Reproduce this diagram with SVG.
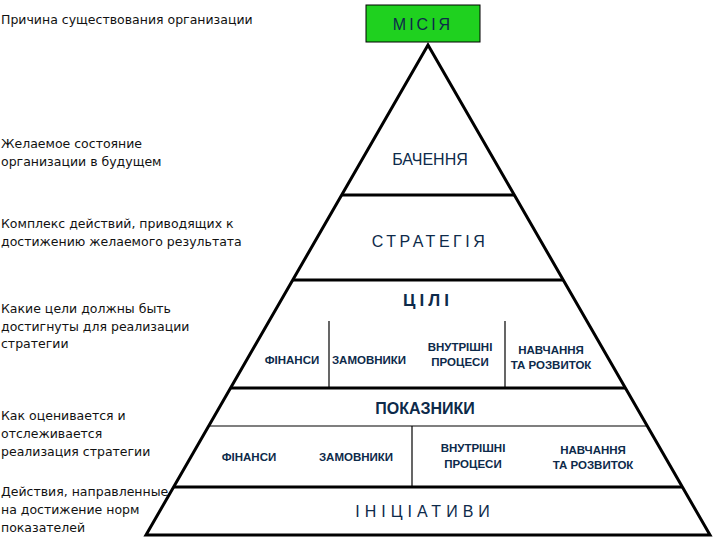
<svg xmlns="http://www.w3.org/2000/svg" width="720" height="540" viewBox="0 0 720 540">
<style>
.l{font-family:"DejaVu Sans",sans-serif;font-size:12.5px;fill:#111}
.t{font-family:"Liberation Sans",Arial,sans-serif;fill:#0d2a4a;text-anchor:middle}
.b{font-weight:bold}
.s{font-size:11.5px;font-weight:bold}
.ln{stroke:#000;stroke-width:3;fill:none}
.th{stroke:#000;stroke-width:1.2}
</style>
<rect width="720" height="540" fill="#fff"/>
<g id="left-texts">
<text class="l" x="1" y="24">Причина существования организации</text>
<text class="l" x="1" y="148">Желаемое состояние</text>
<text class="l" x="1" y="166">организации в будущем</text>
<text class="l" x="1" y="228">Комплекс действий, приводящих к</text>
<text class="l" x="1" y="246">достижению желаемого результата</text>
<text class="l" x="1" y="313">Какие цели должны быть</text>
<text class="l" x="1" y="331">достигнуты для реализации</text>
<text class="l" x="1" y="348">стратегии</text>
<text class="l" x="1" y="420">Как оценивается и</text>
<text class="l" x="1" y="438">отслеживается</text>
<text class="l" x="1" y="456">реализация стратегии</text>
<text class="l" x="1" y="496">Действия, направленные</text>
<text class="l" x="1" y="514">на достижение норм</text>
<text class="l" x="1" y="532">показателей</text>
</g>
<g id="connectors">
<path class="ln" d="M428,45 L146,535 L710,535 Z"/>
<line class="ln" x1="342" y1="195" x2="514" y2="195"/>
<line class="ln" x1="293" y1="280" x2="563" y2="280"/>
<line class="ln" x1="231" y1="388" x2="625" y2="388"/>
<line class="ln" x1="174" y1="487" x2="682" y2="487"/>
<line class="th" x1="209" y1="426" x2="647" y2="426"/>
<line class="th" x1="329" y1="321" x2="329" y2="388"/>
<line class="th" x1="505" y1="321" x2="505" y2="388"/>
<line class="th" x1="412" y1="426" x2="412" y2="487"/>
</g>
<g id="mission">
<rect x="366" y="5" width="114" height="37" fill="#1fd11f" stroke="#000" stroke-width="1"/>
<text class="t" x="423" y="30" font-size="16" letter-spacing="3">МІСІЯ</text>
</g>
<g id="vision"><text class="t" x="430" y="165" font-size="16">БАЧЕННЯ</text></g>
<g id="strategy"><text class="t" x="430" y="247" font-size="16" letter-spacing="3.5">СТРАТЕГІЯ</text></g>
<g id="goals">
<text class="t b" x="428" y="306" font-size="17" letter-spacing="4">ЦІЛІ</text>
<text class="t s" x="292" y="364">ФІНАНСИ</text>
<text class="t s" x="369" y="364">ЗАМОВНИКИ</text>
<text class="t s" x="460" y="351">ВНУТРІШНІ</text>
<text class="t s" x="460" y="366">ПРОЦЕСИ</text>
<text class="t s" x="551" y="354">НАВЧАННЯ</text>
<text class="t s" x="551" y="369">ТА РОЗВИТОК</text>
</g>
<g id="indicators">
<text class="t b" x="425" y="414" font-size="16">ПОКАЗНИКИ</text>
<text class="t s" x="249" y="461">ФІНАНСИ</text>
<text class="t s" x="356" y="461">ЗАМОВНИКИ</text>
<text class="t s" x="473" y="452">ВНУТРІШНІ</text>
<text class="t s" x="473" y="468">ПРОЦЕСИ</text>
<text class="t s" x="593" y="454">НАВЧАННЯ</text>
<text class="t s" x="593" y="469">ТА РОЗВИТОК</text>
</g>
<g id="initiatives"><text class="t" x="425" y="517" font-size="16" letter-spacing="5">ІНІЦІАТИВИ</text></g>
</svg>
